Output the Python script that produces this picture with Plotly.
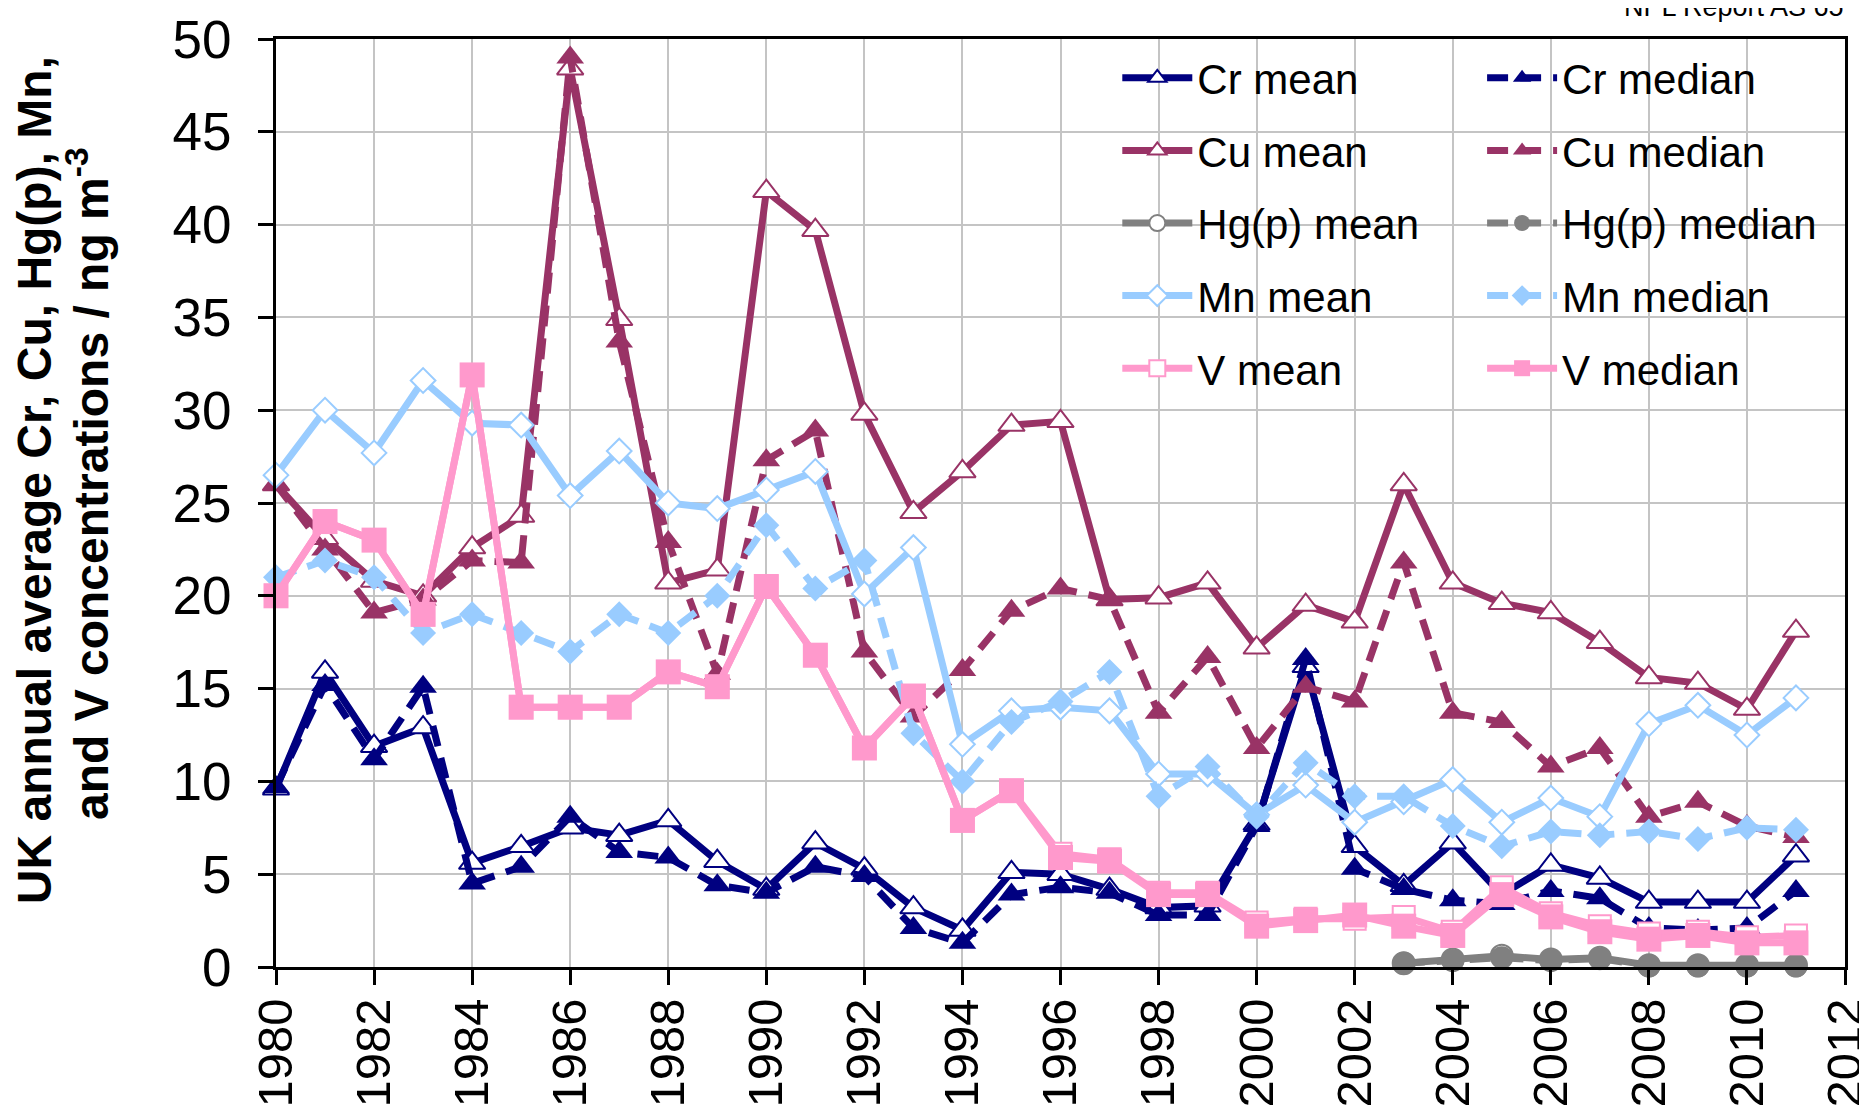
import plotly.graph_objects as go

years = list(range(1980, 2012))
hg_years = list(range(2003, 2012))

cr_mean = [9.6, 15.9, 11.9, 12.9, 5.6, 6.5, 7.5, 7.1, 7.9, 5.7, 4.2, 6.7, 5.3, 3.2, 2.0, 5.1,
           5.0, 4.2, 3.2, 3.3, 7.7, 16.2, 6.5, 4.4, 6.7, 3.9, 5.5, 4.8, 3.5, 3.5, 3.5, 6.0]
cr_median = [9.7, 15.2, 11.2, 15.1, 4.5, 5.4, 8.1, 6.2, 5.9, 4.4, 4.0, 5.4, 4.9, 2.1, 1.3, 3.9,
             4.3, 4.0, 2.8, 2.8, 7.6, 16.6, 5.3, 4.2, 3.6, 3.4, 4.1, 3.7, 2.1, 2.0, 2.1, 4.1]
cu_mean = [26.0, 23.1, 20.8, 20.0, 22.6, 24.3, 48.4, 34.9, 20.7, 21.4, 41.8, 39.7, 29.8, 24.5, 26.7, 29.2,
           29.4, 19.8, 19.9, 20.7, 17.2, 19.5, 18.6, 26.0, 20.7, 19.6, 19.1, 17.5, 15.6, 15.3, 13.9, 18.1]
cu_median = [26.0, 22.5, 19.1, 19.8, 21.9, 21.8, 49.0, 33.7, 22.9, 15.8, 27.3, 28.9, 17.0, 13.5, 16.0, 19.2,
             20.4, 19.8, 13.7, 16.7, 11.8, 15.1, 14.3, 21.8, 13.7, 13.2, 10.8, 11.8, 8.1, 8.9, 7.6, 7.0]
hg_mean = [0.2, 0.4, 0.6, 0.4, 0.5, 0.1, 0.1, 0.1, 0.1]
hg_median = [0.2, 0.35, 0.5, 0.35, 0.45, 0.05, 0.05, 0.05, 0.05]
mn_mean = [26.5, 30.0, 27.7, 31.6, 29.3, 29.2, 25.4, 27.8, 25.0, 24.7, 25.7, 26.7, 20.1, 22.6, 12.0, 13.8,
           14.0, 13.8, 10.4, 10.4, 8.2, 9.8, 7.8, 8.9, 10.1, 7.8, 9.1, 8.1, 13.1, 14.1, 12.5, 14.5]
mn_median = [21.0, 21.9, 21.0, 18.0, 19.0, 18.0, 17.0, 19.0, 18.0, 20.0, 23.8, 20.4, 21.9, 12.6, 10.0, 13.2,
             14.3, 15.9, 9.2, 10.8, 8.1, 11.0, 9.2, 9.2, 7.6, 6.5, 7.3, 7.1, 7.3, 6.9, 7.5, 7.4]
v_mean = [20.0, 24.0, 23.0, 19.0, 31.9, 14.0, 14.0, 14.0, 15.9, 15.1, 20.5, 16.8, 11.8, 14.6, 7.9, 9.5,
          6.1, 5.8, 4.0, 4.0, 2.4, 2.6, 2.6, 2.7, 1.9, 4.3, 2.9, 2.2, 1.8, 1.9, 1.6, 1.7]
v_median = [20.0, 24.0, 23.0, 19.0, 31.9, 14.0, 14.0, 14.0, 15.9, 15.1, 20.5, 16.8, 11.8, 14.6, 7.9, 9.5,
            5.9, 5.7, 3.9, 3.9, 2.2, 2.5, 2.8, 2.2, 1.7, 3.9, 2.7, 1.9, 1.5, 1.7, 1.3, 1.3]

NAVY = "#000080"
MAROON = "#993366"
GREY = "#808080"
LBLUE = "#99CCFF"
PINK = "#FF99CC"
FONT = "Liberation Sans, Arial, sans-serif"
DASH = "21px,12px"

fig = go.Figure()

def add(x, y, name, color, symbol, size, open_marker, dash, legend, lw=7):
    marker = dict(symbol=symbol, size=size,
                  color="white" if open_marker else color,
                  line=dict(color=color, width=2 if open_marker else 0))
    fig.add_trace(go.Scatter(
        x=x, y=y, name=name, mode="lines+markers",
        line=dict(color=color, width=lw, dash=dash),
        marker=marker, cliponaxis=False,
        legend=legend, legendgroup=name))

series = [
    (years, cr_mean, "Cr mean", NAVY, "triangle-up", 23, True, "solid", "legend"),
    (years, cr_median, "Cr median", NAVY, "triangle-up", 24, False, DASH, "legend2"),
    (years, cu_mean, "Cu mean", MAROON, "triangle-up", 23, True, "solid", "legend"),
    (years, cu_median, "Cu median", MAROON, "triangle-up", 24, False, DASH, "legend2"),
    (hg_years, hg_mean, "Hg(p) mean", GREY, "circle", 22, True, "solid", "legend"),
    (hg_years, hg_median, "Hg(p) median", GREY, "circle", 23, False, DASH, "legend2"),
    (years, mn_mean, "Mn mean", LBLUE, "diamond", 19, True, "solid", "legend"),
    (years, mn_median, "Mn median", LBLUE, "diamond", 20, False, DASH, "legend2"),
    (years, v_mean, "V mean", PINK, "square", 22, True, "solid", "legend"),
    (years, v_median, "V median", PINK, "square", 25, False, "solid", "legend2"),
]
for s in series:
    add(*s)

axis_common = dict(
    showgrid=True, gridcolor="#c4c4c4", gridwidth=2,
    showline=True, linecolor="black", linewidth=3, mirror=True,
    ticks="outside", ticklen=15, tickwidth=3, tickcolor="black",
    zeroline=False, automargin=False, ticklabeloverflow="allow",
)

legend_common = dict(
    font=dict(family=FONT, size=42, color="black"),
    bgcolor="rgba(0,0,0,0)", itemwidth=70, tracegroupgap=15,
    xanchor="left", yanchor="top", orientation="v",
)

# the page body adds an 8px offset, so the figure is 8px smaller than the window
fig.update_layout(
    width=1859, height=1107,
    margin=dict(l=268, r=22, t=31, b=148),
    plot_bgcolor="white", paper_bgcolor="white",
    font=dict(family=FONT, color="black"),
    xaxis=dict(range=[1980, 2012], tickmode="linear", tick0=1980, dtick=2,
               tickangle=-90, ticklabelstandoff=-6,
               tickfont=dict(family=FONT, size=49, color="black"), **axis_common),
    yaxis=dict(range=[0, 50], tickmode="linear", tick0=0, dtick=5,
               ticklabelstandoff=16,
               tickfont=dict(family=FONT, size=53, color="black"), **axis_common),
    legend=dict(x=0.5362, y=0.9946, **legend_common),
    legend2=dict(x=0.7687, y=0.9946, **legend_common),
    showlegend=True,
    annotations=[
        dict(text="UK annual average Cr, Cu, Hg(p), Mn,",
             xref="paper", yref="paper", x=-0.1535, y=0.5248, textangle=-90,
             showarrow=False, xanchor="center", yanchor="middle",
             font=dict(family=FONT, size=48, color="black", weight="bold")),
        dict(text="and V concentrations / ng m<sup>-3</sup>",
             xref="paper", yref="paper", x=-0.1198, y=0.5205, textangle=-90,
             showarrow=False, xanchor="center", yanchor="middle",
             font=dict(family=FONT, size=48, color="black", weight="bold")),
        dict(text="NPL Report AS 65", xref="paper", yref="paper",
             x=0.858, y=1.016, xanchor="left", yanchor="bottom", showarrow=False,
             font=dict(family=FONT, size=27, color="black")),
    ],
)

fig.write_html("out.html")
